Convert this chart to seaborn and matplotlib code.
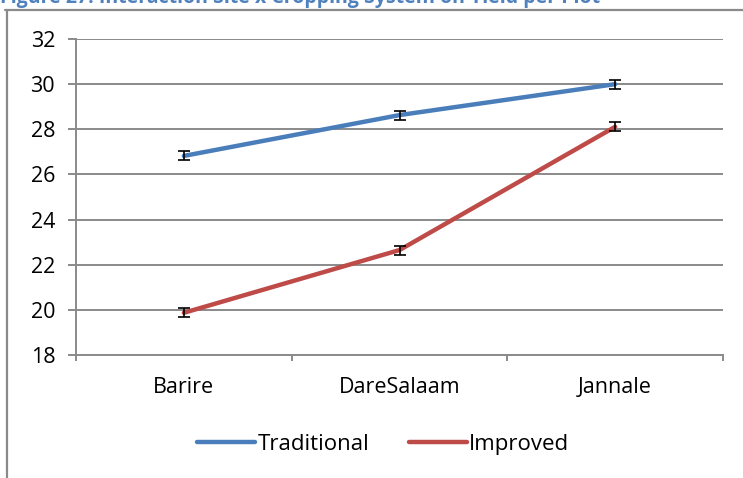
import pandas as pd
import matplotlib.pyplot as plt
import seaborn as sns
from matplotlib.lines import Line2D

# data
sites = ['Barire', 'DareSalaam', 'Jannale']
traditional = [26.82, 28.63, 30.0]
improved = [19.87, 22.65, 28.11]
trad_err = [0.2, 0.2, 0.2]
impr_err = [0.2, 0.2, 0.2]
yticks = [18, 20, 22, 24, 26, 28, 30, 32]

df = pd.DataFrame({
    'Site': sites * 2,
    'System': ['Traditional'] * 3 + ['Improved'] * 3,
    'Yield': traditional + improved,
    'Err': trad_err + impr_err,
})

sns.set_style('white')
plt.rcParams['font.family'] = ['Open Sans', 'DejaVu Sans']
plt.rcParams['text.color'] = 'black'
plt.rcParams['xtick.labelcolor'] = 'black'
plt.rcParams['ytick.labelcolor'] = 'black'

fig = plt.figure(figsize=(7.43, 4.78), dpi=100)
ax = fig.add_axes([0.1023, 0.2573, 0.8708, 0.6611])

palette = {'Traditional': '#4A7EBB', 'Improved': '#BE4B48'}
sns.lineplot(data=df, x='Site', y='Yield', hue='System', palette=palette,
             sort=False, linewidth=3.2, ax=ax, legend=False,
             solid_capstyle='round')

# error bars
for sys_name in ['Traditional', 'Improved']:
    sub = df[df['System'] == sys_name]
    ax.errorbar(range(len(sub)), sub['Yield'], yerr=sub['Err'], fmt='none',
                ecolor='black', elinewidth=1.2, capsize=4.5, capthick=1.2,
                zorder=5)

ax.set_xlim(-0.5, 2.5)
ax.set_ylim(18, 32)
ax.set_yticks(yticks)
ax.set_xticks(range(len(sites)))
ax.set_xticklabels(sites)
ax.set_xticks([-0.5, 0.5, 1.5, 2.5], minor=True)
ax.set_xlabel('')
ax.set_ylabel('')

gray = '#8a8a8a'
ax.grid(axis='y', color=gray, linewidth=1.4)
ax.set_axisbelow(True)
for s in ['top', 'right']:
    ax.spines[s].set_visible(False)
for s in ['left', 'bottom']:
    ax.spines[s].set_color(gray)
    ax.spines[s].set_linewidth(1.4)

ax.tick_params(axis='y', which='major', direction='out', length=6, width=1.4,
               color=gray, labelsize=15.5, pad=9, left=True)
ax.tick_params(axis='x', which='major', length=0, labelsize=15.5, pad=16)
ax.tick_params(axis='x', which='minor', direction='out', length=4, width=1.4,
               color=gray, bottom=True)

# legend at the bottom
handles = [Line2D([0], [0], color=palette['Traditional'], lw=3.2, solid_capstyle='round'),
           Line2D([0], [0], color=palette['Improved'], lw=3.2, solid_capstyle='round')]
fig.legend(handles, ['Traditional', 'Improved'], loc='center',
           bbox_to_anchor=(0.516, 0.07), ncol=2, frameon=False, fontsize=16,
           handlelength=2.6, handletextpad=0.1, columnspacing=1.8)

# chart border (cropped) and cut-off title
fig.add_artist(Line2D([0.0094, 0.0094], [0.979, -0.1], color=gray, lw=1.6,
                      transform=fig.transFigure))
fig.add_artist(Line2D([0.0067, 1.1], [0.979, 0.979], color=gray, lw=1.6,
                      transform=fig.transFigure))
fig.text(0.0, 1.004, 'Figure 27: Interaction Site x Cropping System on Yield per Plot',
         color='#4F81BD', fontsize=14, fontweight='bold', ha='left', va='center')

plt.savefig('out.png', dpi=100)
